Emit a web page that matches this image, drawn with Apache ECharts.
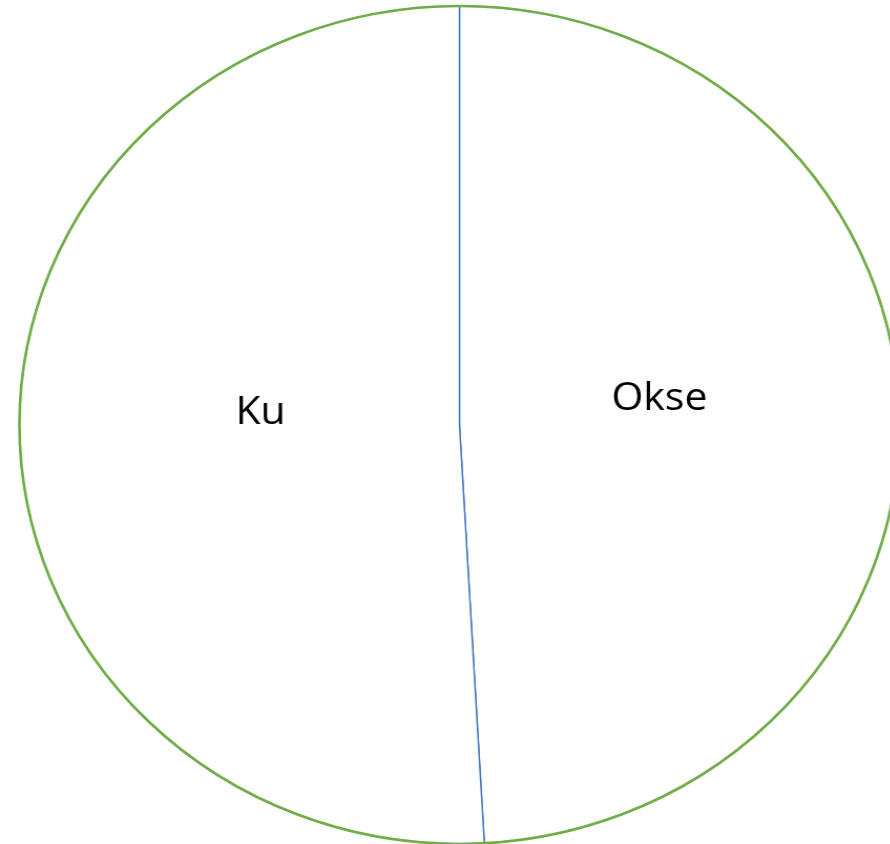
<!DOCTYPE html>
<html>
<head>
<meta charset="utf-8">
<script src="https://cdn.jsdelivr.net/npm/echarts@6/dist/echarts.min.js"></script>
<style>
html,body{margin:0;padding:0;background:#fff;overflow:hidden;width:890px;height:844px;}
#wrap{width:890px;height:844px;overflow:hidden;position:relative;}
#chart{width:848px;height:844px;transform:scaleX(1.0502);transform-origin:0 0;}
</style>
</head>
<body>
<div id="wrap"><div id="chart"></div></div>
<script>
var categories = ['Okse', 'Ku'];
var values = [49.1, 50.9];

var chart = echarts.init(document.getElementById('chart'), null, {renderer: 'canvas'});
var pieData = categories.map(function (c, i) { return {name: c, value: values[i]}; });
var labelShift = [[-22, -20], [23, -18]];

chart.setOption({
  animation: false,
  backgroundColor: '#ffffff',
  series: [
    {
      type: 'pie',
      center: [437.5, 425],
      radius: [0, 419],
      startAngle: 90,
      clockwise: true,
      silent: true,
      data: pieData,
      itemStyle: {color: '#ffffff', borderColor: '#4472C4', borderWidth: 1.4},
      label: {
        show: true,
        position: 'inside',
        formatter: '{b}',
        color: '#000000',
        fontSize: 39,
        fontFamily: 'Open Sans, Liberation Sans, sans-serif'
      },
      labelLine: {show: false},
      labelLayout: function (p) {
        return {dx: labelShift[p.dataIndex][0], dy: labelShift[p.dataIndex][1]};
      },
      emphasis: {disabled: true}
    },
    {
      type: 'pie',
      center: [437.5, 425],
      radius: [0, 419],
      silent: true,
      z: 5,
      data: [{name: 'outline', value: 1}],
      itemStyle: {color: 'rgba(0,0,0,0)', borderColor: '#70AD47', borderWidth: 2.6},
      label: {show: false},
      labelLine: {show: false},
      emphasis: {disabled: true}
    }
  ]
});
</script>
</body>
</html>
